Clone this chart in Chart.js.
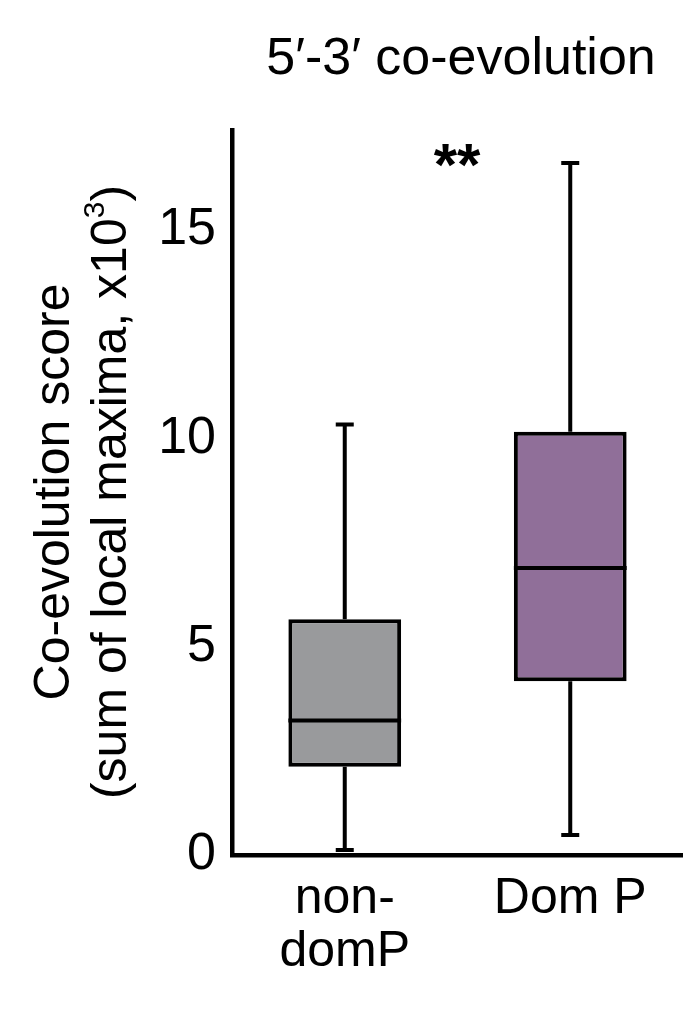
<!DOCTYPE html>
<html><head><meta charset="utf-8">
<script src="https://cdn.jsdelivr.net/npm/chart.js@4"></script>
<style>html,body{margin:0;padding:0;background:#fff}#w{width:683px;height:1009px}</style>
</head><body><div id="w"><canvas id="c"></canvas></div>
<script>
const categories = [["non-","domP"], "Dom P"];
const mins = [0.12, 0.48];
const q1s = [2.12, 4.17];
const medians = [3.23, 6.89];
const q3s = [5.66, 10.16];
const maxs = [10.33, 16.61];
const colors = ["#999a9c", "#906f99"];
const yTicks = [0, 5, 10, 15];
const F = "'Liberation Sans', Arial, sans-serif";

const boxPlugin = {
  id: 'box',
  afterDatasetsDraw(chart) {
    const ctx = chart.ctx, x = chart.scales.x, y = chart.scales.y;
    ctx.save();
    ctx.strokeStyle = '#000'; ctx.lineWidth = 4;
    const meta = chart.getDatasetMeta(0);
    categories.forEach((c, i) => {
      const cx = x.getPixelForValue(i);
      const bw = meta.data[i].width;
      ctx.beginPath();
      ctx.moveTo(cx, y.getPixelForValue(q3s[i])); ctx.lineTo(cx, y.getPixelForValue(maxs[i]));
      ctx.moveTo(cx, y.getPixelForValue(q1s[i])); ctx.lineTo(cx, y.getPixelForValue(mins[i]));
      ctx.moveTo(cx - 9, y.getPixelForValue(maxs[i])); ctx.lineTo(cx + 9, y.getPixelForValue(maxs[i]));
      ctx.moveTo(cx - 9, y.getPixelForValue(mins[i])); ctx.lineTo(cx + 9, y.getPixelForValue(mins[i]));
      ctx.moveTo(cx - bw/2, y.getPixelForValue(medians[i])); ctx.lineTo(cx + bw/2, y.getPixelForValue(medians[i]));
      ctx.stroke();
    });
    ctx.fillStyle = '#000';
    ctx.textAlign = 'center'; ctx.textBaseline = 'middle';
    ctx.font = '52px ' + F;
    ctx.fillText('5\u2032-3\u2032 co-evolution', 461, 60);
    ctx.font = 'bold 60px ' + F;
    ctx.fillText('**', 457, 168);
    ctx.save();
    ctx.translate(55, 492); ctx.rotate(-Math.PI/2);
    ctx.font = '50px ' + F;
    ctx.fillText('Co-evolution score', 0, 0);
    ctx.restore();
    ctx.save();
    ctx.translate(112, 492); ctx.rotate(-Math.PI/2);
    const t1 = '(sum of local maxima, x10', t2 = ')';
    ctx.font = '50px ' + F;
    const w1 = ctx.measureText(t1).width, w2 = ctx.measureText(t2).width;
    ctx.font = '30px ' + F; const w3 = ctx.measureText('3').width;
    const tot = w1 + w2 + w3; const sx = -tot/2;
    ctx.textAlign = 'left';
    ctx.font = '50px ' + F; ctx.fillText(t1, sx, 0);
    ctx.font = '30px ' + F; ctx.fillText('3', sx + w1, -16);
    ctx.font = '50px ' + F; ctx.fillText(t2, sx + w1 + w3, 0);
    ctx.restore();
    ctx.restore();
  }
};

new Chart(document.getElementById('c'), {
  type: 'bar',
  data: {
    labels: categories,
    datasets: [{
      data: categories.map((c, i) => [q1s[i], q3s[i]]),
      backgroundColor: colors, borderColor: '#000', borderWidth: 4, borderSkipped: false,
      barPercentage: 0.5, categoryPercentage: 1
    }]
  },
  options: {
    responsive: true, maintainAspectRatio: false, animation: false,
    layout: { padding: { top: 130, left: 0, right: 0, bottom: 0 } },
    plugins: { legend: { display: false }, tooltip: { enabled: false } },
    scales: {
      y: {
        min: 0, max: 17.4,
        afterFit(s) { s.width = 232; },
        afterBuildTicks(s) { s.ticks = yTicks.map(v => ({ value: v })); },
        grid: { display: false, drawTicks: true, tickLength: 12, tickWidth: 4, tickColor: '#000' },
        border: { color: '#000', width: 4.5 },
        ticks: { color: '#000', font: { size: 52, family: F }, padding: 4 }
      },
      x: {
        afterFit(s) { s.height = 154; },
        grid: { display: false, drawTicks: false },
        border: { color: '#000', width: 4.5 },
        ticks: { color: '#000', font: { size: 50, family: F, lineHeight: 1.05 }, padding: 18 }
      }
    }
  },
  plugins: [boxPlugin]
});
</script></body></html>
